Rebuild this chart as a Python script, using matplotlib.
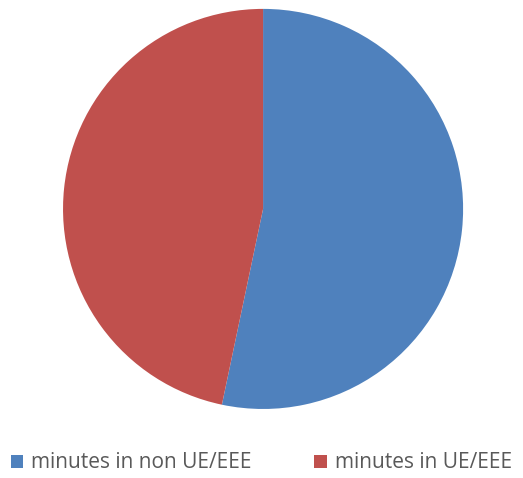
import matplotlib.pyplot as plt
from matplotlib.patches import Patch

labels = ["minutes in non UE/EEE", "minutes in UE/EEE"]
values = [53.3, 46.7]
colors = ["#4F81BD", "#C0504D"]

fig = plt.figure(figsize=(5.23, 4.78), dpi=100)
ax = fig.add_axes([0.1205, 0.1444, 0.765, 0.837])
ax.pie(values, colors=colors, startangle=90, counterclock=False, radius=1,
       wedgeprops={"linewidth": 0})
ax.set_xlim(-1, 1)
ax.set_ylim(-1, 1)
ax.set_aspect("equal")
ax.axis("off")

handles = [Patch(facecolor=c, edgecolor="none") for c in colors]
fig.legend(handles, labels, loc="center", bbox_to_anchor=(0.5, 1 - 463 / 478),
           ncol=2, frameon=False, handlelength=0.6, handleheight=0.6,
           handletextpad=0.4, columnspacing=3.0, labelcolor="#595959",
           prop={"family": "Open Sans", "size": 15})

fig.savefig("out.png", dpi=100)
